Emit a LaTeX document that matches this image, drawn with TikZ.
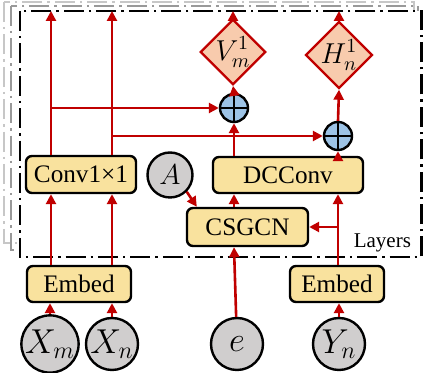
\documentclass[tikz,border=0pt]{standalone}
\usepackage{fontspec}
\setmainfont{Liberation Serif}
\usetikzlibrary{arrows.meta,shapes.geometric}
\definecolor{boxfill}{RGB}{249,226,158}
\definecolor{inpfill}{RGB}{208,206,206}
\definecolor{outfill}{RGB}{248,203,173}
\definecolor{sumfill}{RGB}{157,195,230}
\definecolor{flow}{RGB}{192,0,0}
\tikzset{
  opbox/.style={draw=black,line width=1.2pt,fill=boxfill,rounded corners=3pt,
    inner sep=0pt,font=\fontsize{12.6}{14}\selectfont},
  inp/.style={circle,draw=black,line width=1.2pt,fill=inpfill,inner sep=0pt,
    minimum size=26pt,font=\fontsize{16.5}{18}\selectfont},
  outp/.style={diamond,draw=flow,line width=1.2pt,fill=outfill,inner sep=0pt,
    minimum width=30pt,minimum height=29pt,font=\fontsize{14.5}{16}\selectfont},
  sumnode/.style={circle,draw=black,line width=1.2pt,fill=sumfill,inner sep=0pt,
    minimum size=14pt},
  arr/.style={draw=flow,line width=1.3pt,-{Triangle[length=5pt,width=5pt]}},
  layerframe/.style={line width=1.2pt,dash pattern=on 10pt off 2.5pt on 1.2pt off 2.5pt},
}
\begin{document}
\begin{tikzpicture}[x=0.5pt,y=-0.5pt]
\useasboundingbox (0,0) rectangle (424,373);

% stacked layers behind the main block
\draw[layerframe,draw=black!22,line width=1pt] (4,2) rectangle (414,243);
\draw[layerframe,draw=black!40,line width=1pt] (11,6) rectangle (418,250);
\draw[layerframe,fill=white] (20,11) rectangle (421.5,257);
\node[font=\fontsize{10.5}{12}\selectfont,anchor=east] (lay) at (418,243) {Layers};

% operation boxes
\node[opbox,minimum width=55pt,minimum height=18.5pt] (conv) at (81,174.5) {Conv1×1};
\node[opbox,minimum width=75pt,minimum height=18pt] (dcc) at (288,175) {DCConv};
\node[opbox,minimum width=60.5pt,minimum height=19pt] (gcn) at (247.5,227) {CSGCN};
\node[opbox,minimum width=52pt,minimum height=18pt] (emb1) at (79,284) {Embed};
\node[opbox,minimum width=47pt,minimum height=18pt] (emb2) at (337,284) {Embed};

% inputs
\node[inp,minimum size=22.5pt,font=\fontsize{14}{16}\selectfont] (A) at (170,175) {$A$};
\node[inp] (xm) at (50,344) {$X_m$};
\node[inp] (xn) at (112,344) {$X_n$};
\node[inp] (e) at (237,344) {$e$};
\node[inp] (yn) at (339,344) {$Y_n$};

% outputs
\node[outp] (V) at (233,52) {$V_m^1$};
\node[outp,minimum height=30pt] (H) at (339,55) {$H_n^1$};

% additions
\node[sumnode] (s1) at (234,108) {};
\node[sumnode] (s2) at (338,136) {};
\foreach \s in {s1,s2}{
  \draw[line width=1.2pt] (\s.north) -- (\s.south) (\s.west) -- (\s.east);
}

% helper points
\coordinate (c1) at (51,0);
\coordinate (c2) at (112,0);
\coordinate (top1) at (51,11);
\coordinate (top2) at (112,11);
\coordinate (topV) at (233,11);
\coordinate (topH) at (339,11);
\coordinate (j1) at (51,108);
\coordinate (j2) at (112,136);
\coordinate (d1) at (234,0);
\coordinate (d2) at (338,0);
\coordinate (j3) at (338,227);

% inputs to embeddings
\draw[arr] (xm) -- (emb1.south -| xm);
\draw[arr] (xn) -- (emb1.south -| xn);
\draw[arr] (yn) -- (emb2.south -| yn);

% embeddings to layer
\draw[arr] (emb1.north -| c1) -- (conv.south -| c1);
\draw[arr] (emb1.north -| c2) -- (conv.south -| c2);
\draw[arr] (emb2.north -| d2) -- (dcc.south -| d2);
\draw[arr] (j3) -- (gcn.east);
\draw[arr] (e) -- (gcn.south -| d1);
\draw[arr] (A.south east) -- ([xshift=5.5pt]gcn.north west);
\draw[arr] (gcn.north -| d1) -- (dcc.south -| d1);

% skip connections
\draw[arr] (conv.north -| c1) -- (top1);
\draw[arr] (conv.north -| c2) -- (top2);
\draw[arr] (j1) -- (s1.west);
\draw[arr] (j2) -- (s2.west);

% layer outputs
\draw[arr] (dcc.north -| d1) -- (s1.south);
\draw[arr] (dcc.north -| d2) -- (s2.south);
\draw[arr] (s1.north) -- (V.south);
\draw[arr] (s2.north) -- (H.south);
\draw[arr] (V.north) -- (topV);
\draw[arr] (H.north) -- (topH);
\end{tikzpicture}
\end{document}
